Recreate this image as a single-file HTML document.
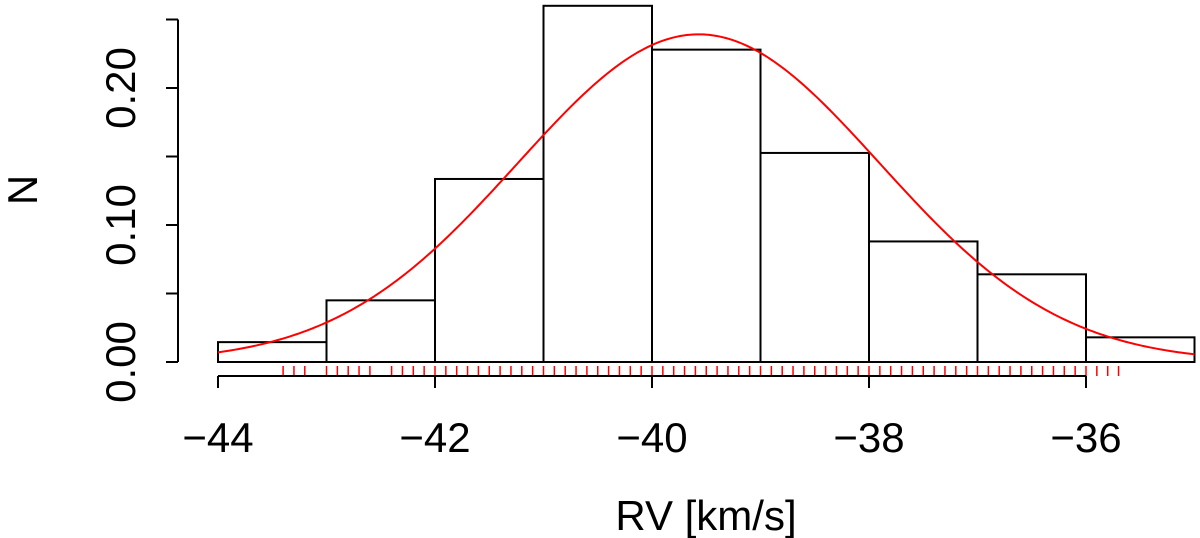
<!DOCTYPE html>
<html><head><meta charset="utf-8"><style>
html,body{margin:0;padding:0;background:#fff;}
svg{display:block;font-family:"Liberation Sans",Arial,sans-serif;}
</style></head><body>
<svg id="chart" width="1200" height="538">
<g id="bars"></g>
<g id="rug"></g>
<path id="curve" fill="none" stroke="#ff0000" stroke-width="2"></path>
<g id="xaxis"></g>
<g id="yaxis"></g>
<text x="706" y="530" font-size="42" text-anchor="middle">RV [km/s]</text>
<text transform="translate(37,190) rotate(-90)" font-size="42" text-anchor="middle">N</text>
</svg>
<script>
const binEdges = [-44,-43,-42,-41,-40,-39,-38,-37,-36,-35];
const binDensity = [0.0145,0.045,0.1336,0.26,0.228,0.1526,0.088,0.064,0.018];
const fitMean = -39.57;
const fitSigma = 1.668;
const xTicks = [-44,-42,-40,-38,-36];
const yTicks = [0,0.05,0.10,0.15,0.20,0.25];
const yTickLabels = ["0.00","","0.10","","0.20",""];
const rugValues = [-43.4,-43.3,-43.2,-43.0,-42.9,-42.8,-42.7,-42.6,
-42.4,-42.3,-42.2,-42.1,-42.0,-41.9,-41.8,-41.7,-41.6,-41.5,-41.4,-41.3,-41.2,-41.1,-41.0,
-40.9,-40.8,-40.7,-40.6,-40.5,-40.4,-40.3,-40.2,-40.1,-40.0,-39.9,-39.8,-39.7,-39.6,-39.5,
-39.4,-39.3,-39.2,-39.1,-39.0,-38.9,-38.8,-38.7,-38.6,-38.5,-38.4,-38.3,-38.2,-38.1,-38.0,
-37.9,-37.8,-37.7,-37.6,-37.5,-37.4,-37.3,-37.2,-37.1,-37.0,-36.9,-36.8,-36.7,-36.6,-36.5,
-36.4,-36.3,-36.2,-36.1,-36.0,-35.9,-35.8,-35.7];

const NS="http://www.w3.org/2000/svg";
const X = v => 218 + (v + 44) * 108.5;
const Y = v => 362 - v * 1370;
function mk(tag, attrs, parent){const e=document.createElementNS(NS,tag);for(const k in attrs)e.setAttribute(k,attrs[k]);parent.appendChild(e);return e;}

const bars=document.getElementById('bars');
binDensity.forEach((d,i)=>{
  const x0=X(binEdges[i]), x1=X(binEdges[i+1]);
  const r=mk('rect',{x:x0,y:Y(d),width:x1-x0,height:Y(0)-Y(d),fill:'none',stroke:'#000','stroke-width':2},bars);
  
  
});

const rug=document.getElementById('rug');
rugValues.forEach(v=>{
  const l=mk('line',{x1:X(v),x2:X(v),y1:366,y2:376,stroke:'#ff0000','stroke-width':1.5},rug);
  
  
});

let dstr='';
for(let i=0;i<=300;i++){
  const v=-44+9*i/300;
  const p=Math.exp(-0.5*((v-fitMean)/fitSigma)**2)/(fitSigma*Math.sqrt(2*Math.PI));
  dstr+=(i?'L':'M')+X(v).toFixed(2)+','+Y(p).toFixed(2);
}
document.getElementById('curve').setAttribute('d',dstr);

const xa=document.getElementById('xaxis');
mk('line',{x1:X(xTicks[0]),x2:X(xTicks[xTicks.length-1]),y1:376,y2:376,stroke:'#000','stroke-width':2},xa);
xTicks.forEach(t=>{
  mk('line',{x1:X(t),x2:X(t),y1:376,y2:388,stroke:'#000','stroke-width':2},xa);
  const tx=mk('text',{x:X(t),y:452,'font-size':42,'text-anchor':'middle'},xa);
  tx.textContent=(t<0?'\u2212'+Math.abs(t):t);
  
  
});

const ya=document.getElementById('yaxis');
mk('line',{x1:178,x2:178,y1:Y(yTicks[0]),y2:Y(yTicks[yTicks.length-1]),stroke:'#000','stroke-width':2},ya);
yTicks.forEach((t,i)=>{
  mk('line',{x1:166,x2:178,y1:Y(t),y2:Y(t),stroke:'#000','stroke-width':2},ya);
  if(yTickLabels[i]){
    const tx=mk('text',{transform:`translate(135,${Y(t)}) rotate(-90)`,'font-size':42,'text-anchor':'middle'},ya);
    tx.textContent=yTickLabels[i];
    
    
  }
});
</script>
</body></html>
